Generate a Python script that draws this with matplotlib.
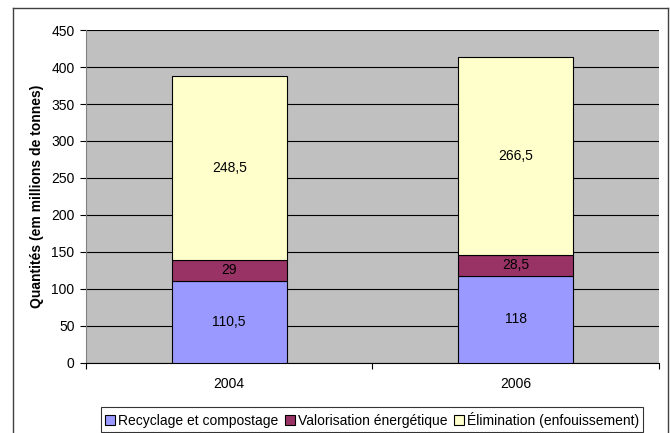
import matplotlib.pyplot as plt
from matplotlib.lines import Line2D

plt.rcParams['font.family'] = ['Liberation Sans', 'DejaVu Sans']

years = ["2004", "2006"]
recyclage = [110.5, 118]
valorisation = [29, 28.5]
elimination = [248.5, 266.5]
labels = ["Recyclage et compostage", "Valorisation énergétique", "Élimination (enfouissement)"]
colors = ["#9999FF", "#993366", "#FFFFCC"]
y_ticks = [0, 50, 100, 150, 200, 250, 300, 350, 400, 450]


def fr(v):
    return f"{v:g}".replace(".", ",")


fig = plt.figure(figsize=(6.7, 4.33), dpi=100)
ax = fig.add_axes([0.1284, 0.1617, 0.855, 0.769])
ax.set_facecolor("#C0C0C0")

x = list(range(len(years)))
bottom = [0] * len(years)
for series, color, name in zip([recyclage, valorisation, elimination], colors, labels):
    bars = ax.bar(x, series, width=0.40, bottom=bottom, color=color,
                  edgecolor="black", linewidth=0.8, label=name, zorder=3)
    for b, v, b0 in zip(bars, series, bottom):
        ax.text(b.get_x() + b.get_width() / 2, b0 + v / 2, fr(v),
                ha="center", va="center", fontsize=10, zorder=4)
    bottom = [a + b for a, b in zip(bottom, series)]

ax.set_xlim(-0.5, len(years) - 0.5)
ax.set_ylim(0, 450)
ax.set_yticks(y_ticks)
ax.yaxis.grid(True, color="black", linewidth=0.8, zorder=1)
ax.set_axisbelow(True)

ax.set_xticks([i - 0.5 for i in range(len(years) + 1)])
ax.set_xticklabels([])
ax.set_xticks(x, minor=True)
ax.set_xticklabels(years, minor=True)
ax.tick_params(axis="x", which="minor", length=0, pad=10, labelsize=10)
ax.tick_params(axis="x", which="major", length=4, width=0.8)
ax.tick_params(axis="y", length=4.3, width=0.8, labelsize=10, pad=4)

for s in ["top", "right"]:
    ax.spines[s].set_visible(False)
ax.spines["left"].set_color("#808080")
ax.spines["bottom"].set_color("black")

ax.set_ylabel("Quantités (em millions de tonnes)", fontsize=10, fontweight="bold", labelpad=5)

leg = ax.legend(loc="center", bbox_to_anchor=(372 / 670, 1 - 419.5 / 433),
                bbox_transform=fig.transFigure, ncol=3, fontsize=10,
                frameon=True, fancybox=False, edgecolor="black",
                handlelength=0.7, handleheight=0.7, handletextpad=0.2,
                columnspacing=0.5, borderpad=0.3, borderaxespad=0)
leg.get_frame().set_linewidth(0.8)

# outer chart frame
fx0, fx1, fy1 = 13 / 670, 668 / 670, 1 - 7.5 / 433
for xs, ys in [([fx0, fx0], [0, fy1]), ([fx0, fx1], [fy1, fy1]), ([fx1, fx1], [fy1, 0])]:
    fig.add_artist(Line2D(xs, ys, transform=fig.transFigure, color="#404040", linewidth=1))

fig.savefig("out.png", dpi=100)
